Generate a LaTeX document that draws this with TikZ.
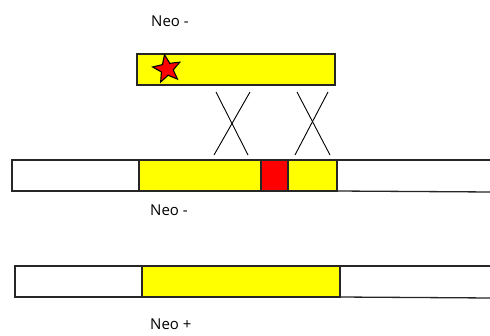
\documentclass[tikz,border=0pt]{standalone}
\usepackage{fontspec}
\setmainfont{Open Sans}
\usetikzlibrary{shapes.geometric}
\definecolor{yel}{RGB}{255,255,0}
\definecolor{rd}{RGB}{255,0,0}
\tikzset{
  seg/.style={draw=black!85, line width=1.3pt, inner sep=0pt, outer sep=0pt, anchor=north west, minimum height=31pt},
  lbl/.style={font=\fontsize{15}{18}\selectfont, inner sep=0pt, anchor=west},
  xline/.style={draw=black, line width=0.9pt}
}
\begin{document}
\begin{tikzpicture}[x=1pt,y=-1pt]
\useasboundingbox[fill=white] (0,0) rectangle (490,335);
% labels
\node[lbl] (l1) at (151,21) {Neo -};
\node[lbl] (l2) at (150,210) {Neo -};
\node[lbl] (l3) at (150,324) {Neo +};
% top bar
\node[seg, fill=yel, minimum width=198pt] (top) at (137,54) {};
\node[star, star points=5, star point ratio=2.3, minimum size=29pt, inner sep=0pt, fill=rd, draw=black, line width=1.1pt, rotate=10] (star) at (167,69) {};
% middle bar
\node[seg, fill=white, minimum width=127pt] (m1) at (12,160) {};
\node[seg, fill=yel, minimum width=122pt] (m2) at (139,160) {};
\node[seg, fill=rd, minimum width=27pt] (m3) at (261,160) {};
\node[seg, fill=yel, minimum width=49pt] (m4) at (288,160) {};
\coordinate (m5t) at (492,160);
\coordinate (m5b) at (492,192);
\draw[draw=black!85, line width=1.3pt] (m4.north east) -- (m5t);
\draw[draw=black!85, line width=1.3pt] (m4.south east) -- (m5b);
% bottom bar
\node[seg, fill=white, minimum width=127pt] (b1) at (15,266) {};
\node[seg, fill=yel, minimum width=198pt] (b2) at (142,266) {};
\coordinate (b3t) at (492,266);
\coordinate (b3b) at (492,298);
\draw[draw=black!85, line width=1.3pt] (b2.north east) -- (b3t);
\draw[draw=black!85, line width=1.3pt] (b2.south east) -- (b3b);
% crosses
\coordinate (x1a) at (216,92); \coordinate (x1b) at (248,155);
\coordinate (x1c) at (250,92); \coordinate (x1d) at (214,155);
\coordinate (x2a) at (297,92); \coordinate (x2b) at (330,155);
\coordinate (x2c) at (328,92); \coordinate (x2d) at (295,155);
\draw[xline] (x1a) -- (x1b);
\draw[xline] (x1c) -- (x1d);
\draw[xline] (x2a) -- (x2b);
\draw[xline] (x2c) -- (x2d);
\end{tikzpicture}
\end{document}
